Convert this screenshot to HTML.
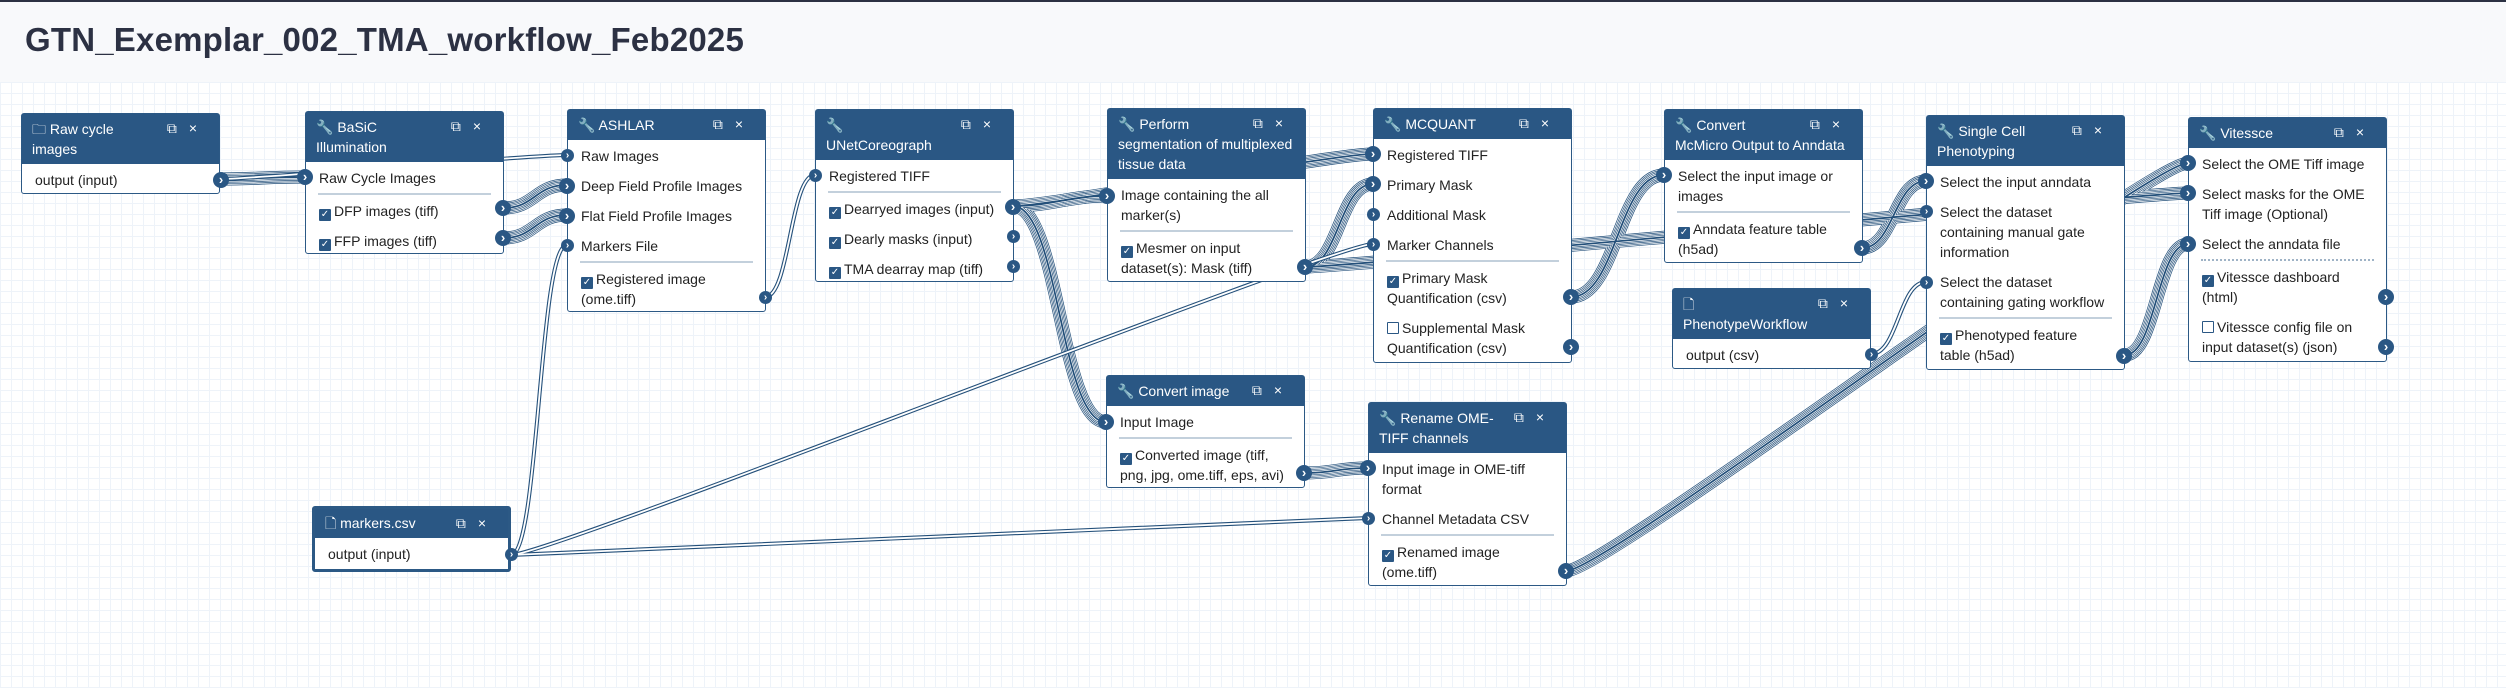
<!DOCTYPE html>
<html><head><meta charset="utf-8">
<style>
*{box-sizing:border-box;margin:0;padding:0}
body{width:2506px;height:688px;overflow:hidden;position:relative;font-family:"Liberation Sans",Arial,sans-serif;background:#fff;
background-image:linear-gradient(#eef3f9 1px,transparent 1px),linear-gradient(90deg,#eef3f9 1px,transparent 1px);background-size:11px 11px;background-position:0 82px}
#top{position:absolute;left:0;top:0;width:2506px;height:82px;background:#f8f9fb;border-top:2px solid #2c3143}
#top h1{position:absolute;left:25px;top:19px;font-size:33px;font-weight:bold;color:#2c3143;letter-spacing:0.2px}
svg{position:absolute;left:0;top:0}
.n{position:absolute;width:199px;background:#fff;border:1px solid #2c5985;border-radius:3px;font-size:14px;color:#222;line-height:20px}
.h{background:#2a5784;color:#fff;padding:5px 40px 5px 10px;white-space:nowrap;position:relative}
.h .ic{position:absolute;right:10px;top:4px;font-size:14px;letter-spacing:12px}
.b{padding-top:1px}
.r{padding:5px 10px 5px 13px;white-space:nowrap;position:relative}
.d{height:2px;background:#c3d0dc;margin:0 12px 1px 12px}
.d.dot{background:none;border-top:2px dotted #9fb3c6}
.cb{display:inline-block;width:12px;height:12px;background:#2a5784;color:#fff;font-size:10px;line-height:12px;text-align:center;vertical-align:-1px;margin-right:3px;border-radius:1px}
.cb.u{background:#fff;border:1px solid #2a5784}
.p{position:absolute;width:16px;height:16px;border-radius:50%;background:#2a5784;color:#fff;font-size:13px;line-height:16px;text-align:center;font-weight:bold}
.p.s{width:13px;height:13px;font-size:10px;line-height:13px}
</style></head><body>
<div id="top"><h1>GTN_Exemplar_002_TMA_workflow_Feb2025</h1></div>

<svg width="2506" height="688" viewBox="0 0 2506 688">
<defs>
<path id="c1" d="M220 179 C260 179 265 177 305 177"/>
<path id="c2" d="M503 208 C535 208 535 185 567 185"/>
<path id="c3" d="M503 238 C535 238 535 215 567 215"/>
<path id="c4" d="M220 179 C260 179 527 155 567 155"/>
<path id="c5" d="M511 555 C539 555 539 245 567 245"/>
<path id="c6" d="M765 297 C790 297 790 175 815 175"/>
<path id="c7a" d="M1013 206 C1053 206 1067 196 1107 196"/>
<path id="c7b" d="M1013 206 C1053 206 1333 154 1373 154"/>
<path id="c7c" d="M1013 206 C1059 206 1060 422 1106 422"/>
<path id="c8a" d="M1305 267 C1339 267 1339 184 1373 184"/>
<path id="c8b" d="M1305 267 C1345 267 2148 193 2188 193"/>
<path id="c9" d="M1571 297 C1617 297 1618 175 1664 175"/>
<path id="c10" d="M1862 248 C1894 248 1894 181 1926 181"/>
<path id="c11" d="M1871 354 C1898 354 1899 282 1926 282"/>
<path id="c12" d="M2125 355 C2156 355 2157 244 2188 244"/>
<path id="c13" d="M1304 473 C1336 473 1336 468 1368 468"/>
<path id="c14" d="M511 555 C551 555 1328 518 1368 518"/>
<path id="c15" d="M511 555 C551 555 1333 244 1373 244"/>
<path id="c16" d="M1566 571 C1606 571 2148 163 2188 163"/>
<g id="M"><use href="#c1"/><use href="#c2"/><use href="#c3"/><use href="#c7a"/><use href="#c7b"/><use href="#c7c"/><use href="#c8a"/><use href="#c8b"/><use href="#c9"/><use href="#c10"/><use href="#c12"/><use href="#c13"/><use href="#c16"/></g>
<g id="T"><use href="#c4"/><use href="#c5"/><use href="#c6"/><use href="#c11"/><use href="#c14"/><use href="#c15"/></g>
</defs>
<g fill="none">
<use href="#M" stroke="#24507a" stroke-width="13"/>
<use href="#M" stroke="#fff" stroke-width="11.6"/>
<use href="#M" stroke="#24507a" stroke-width="10.2"/>
<use href="#M" stroke="#fff" stroke-width="8.8"/>
<use href="#M" stroke="#24507a" stroke-width="7.4"/>
<use href="#M" stroke="#fff" stroke-width="6"/>
<use href="#M" stroke="#24507a" stroke-width="4.6"/>
<use href="#M" stroke="#fff" stroke-width="3.2"/>
<use href="#M" stroke="#24507a" stroke-width="1.8"/>
<use href="#T" stroke="#24507a" stroke-width="4"/>
<use href="#T" stroke="#fff" stroke-width="1.8"/>
</g>
</svg>

<div class="n" style="left:21px;top:113px;height:81px">
<div class="h">🗀 Raw cycle<br>images<span class="ic">⧉×</span></div>
<div class="b"><div class="r">output (input)</div></div>
<div class="p" style="left:191px;top:58px">›</div>
</div>

<div class="n" style="left:305px;top:111px;height:143px">
<div class="h">🔧 BaSiC<br>Illumination<span class="ic">⧉×</span></div>
<div class="b">
<div class="r">Raw Cycle Images</div><div class="d"></div>
<div class="r"><span class="cb">✓</span>DFP images (tiff)</div>
<div class="r"><span class="cb">✓</span>FFP images (tiff)</div>
</div>
<div class="p" style="left:-9px;top:57px">›</div>
<div class="p" style="left:189px;top:88px">›</div>
<div class="p" style="left:189px;top:118px">›</div>
</div>

<div class="n" style="left:567px;top:109px;height:203px">
<div class="h">🔧 ASHLAR<span class="ic">⧉×</span></div>
<div class="b">
<div class="r">Raw Images</div>
<div class="r">Deep Field Profile Images</div>
<div class="r">Flat Field Profile Images</div>
<div class="r">Markers File</div><div class="d"></div>
<div class="r"><span class="cb">✓</span>Registered image<br>(ome.tiff)</div>
</div>
<div class="p s" style="left:-7px;top:39px">›</div>
<div class="p" style="left:-9px;top:68px">›</div>
<div class="p" style="left:-9px;top:98px">›</div>
<div class="p s" style="left:-7px;top:129px">›</div>
<div class="p s" style="left:191px;top:181px">›</div>
</div>

<div class="n" style="left:815px;top:109px;height:173px">
<div class="h">🔧<br>UNetCoreograph<span class="ic">⧉×</span></div>
<div class="b">
<div class="r">Registered TIFF</div><div class="d"></div>
<div class="r"><span class="cb">✓</span>Dearryed images (input)</div>
<div class="r"><span class="cb">✓</span>Dearly masks (input)</div>
<div class="r"><span class="cb">✓</span>TMA dearray map (tiff)</div>
</div>
<div class="p s" style="left:-7px;top:59px">›</div>
<div class="p" style="left:189px;top:89px">›</div>
<div class="p s" style="left:191px;top:120px">›</div>
<div class="p s" style="left:191px;top:150px">›</div>
</div>

<div class="n" style="left:1107px;top:108px;height:174px">
<div class="h">🔧 Perform<br>segmentation of multiplexed<br>tissue data<span class="ic">⧉×</span></div>
<div class="b">
<div class="r">Image containing the all<br>marker(s)</div><div class="d"></div>
<div class="r"><span class="cb">✓</span>Mesmer on input<br>dataset(s): Mask (tiff)</div>
</div>
<div class="p" style="left:-9px;top:79px">›</div>
<div class="p" style="left:189px;top:150px">›</div>
</div>

<div class="n" style="left:1373px;top:108px;height:255px">
<div class="h">🔧 MCQUANT<span class="ic">⧉×</span></div>
<div class="b">
<div class="r">Registered TIFF</div>
<div class="r">Primary Mask</div>
<div class="r">Additional Mask</div>
<div class="r">Marker Channels</div><div class="d"></div>
<div class="r"><span class="cb">✓</span>Primary Mask<br>Quantification (csv)</div>
<div class="r"><span class="cb u"></span>Supplemental Mask<br>Quantification (csv)</div>
</div>
<div class="p" style="left:-9px;top:37px">›</div>
<div class="p" style="left:-9px;top:67px">›</div>
<div class="p s" style="left:-7px;top:99px">›</div>
<div class="p s" style="left:-7px;top:129px">›</div>
<div class="p" style="left:189px;top:180px">›</div>
<div class="p" style="left:189px;top:230px">›</div>
</div>

<div class="n" style="left:1664px;top:109px;height:154px">
<div class="h">🔧 Convert<br>McMicro Output to Anndata<span class="ic">⧉×</span></div>
<div class="b">
<div class="r">Select the input image or<br>images</div><div class="d"></div>
<div class="r"><span class="cb">✓</span>Anndata feature table<br>(h5ad)</div>
</div>
<div class="p" style="left:-9px;top:57px">›</div>
<div class="p" style="left:189px;top:130px">›</div>
</div>

<div class="n" style="left:1672px;top:288px;height:81px">
<div class="h">🗋<br>PhenotypeWorkflow<span class="ic">⧉×</span></div>
<div class="b"><div class="r">output (csv)</div></div>
<div class="p s" style="left:192px;top:59px">›</div>
</div>

<div class="n" style="left:1926px;top:115px;height:255px">
<div class="h">🔧 Single Cell<br>Phenotyping<span class="ic">⧉×</span></div>
<div class="b">
<div class="r">Select the input anndata</div>
<div class="r">Select the dataset<br>containing manual gate<br>information</div>
<div class="r">Select the dataset<br>containing gating workflow</div><div class="d"></div>
<div class="r"><span class="cb">✓</span>Phenotyped feature<br>table (h5ad)</div>
</div>
<div class="p" style="left:-9px;top:57px">›</div>
<div class="p s" style="left:-7px;top:89px">›</div>
<div class="p s" style="left:-7px;top:160px">›</div>
<div class="p" style="left:189px;top:232px">›</div>
</div>

<div class="n" style="left:2188px;top:117px;height:245px">
<div class="h">🔧 Vitessce<span class="ic">⧉×</span></div>
<div class="b">
<div class="r">Select the OME Tiff image</div>
<div class="r">Select masks for the OME<br>Tiff image (Optional)</div>
<div class="r">Select the anndata file</div><div class="d dot"></div>
<div class="r"><span class="cb">✓</span>Vitessce dashboard<br>(html)</div>
<div class="r"><span class="cb u"></span>Vitessce config file on<br>input dataset(s) (json)</div>
</div>
<div class="p" style="left:-9px;top:37px">›</div>
<div class="p" style="left:-9px;top:67px">›</div>
<div class="p" style="left:-9px;top:118px">›</div>
<div class="p" style="left:189px;top:171px">›</div>
<div class="p" style="left:189px;top:221px">›</div>
</div>

<div class="n" style="left:1106px;top:375px;height:113px">
<div class="h">🔧 Convert image<span class="ic">⧉×</span></div>
<div class="b">
<div class="r">Input Image</div><div class="d"></div>
<div class="r"><span class="cb">✓</span>Converted image (tiff,<br>png, jpg, ome.tiff, eps, avi)</div>
</div>
<div class="p" style="left:-9px;top:38px">›</div>
<div class="p" style="left:189px;top:89px">›</div>
</div>

<div class="n" style="left:1368px;top:402px;height:184px">
<div class="h">🔧 Rename OME-<br>TIFF channels<span class="ic">⧉×</span></div>
<div class="b">
<div class="r">Input image in OME-tiff<br>format</div>
<div class="r">Channel Metadata CSV</div><div class="d"></div>
<div class="r"><span class="cb">✓</span>Renamed image<br>(ome.tiff)</div>
</div>
<div class="p" style="left:-9px;top:57px">›</div>
<div class="p s" style="left:-7px;top:109px">›</div>
<div class="p" style="left:189px;top:160px">›</div>
</div>

<div class="n" style="left:312px;top:506px;height:66px;border:3px solid #2c5985">
<div class="h" style="padding-top:4px">🗋 markers.csv<span class="ic">⧉×</span></div>
<div class="b"><div class="r">output (input)</div></div>
<div class="p s" style="left:190px;top:39px">›</div>
</div>
</body></html>
